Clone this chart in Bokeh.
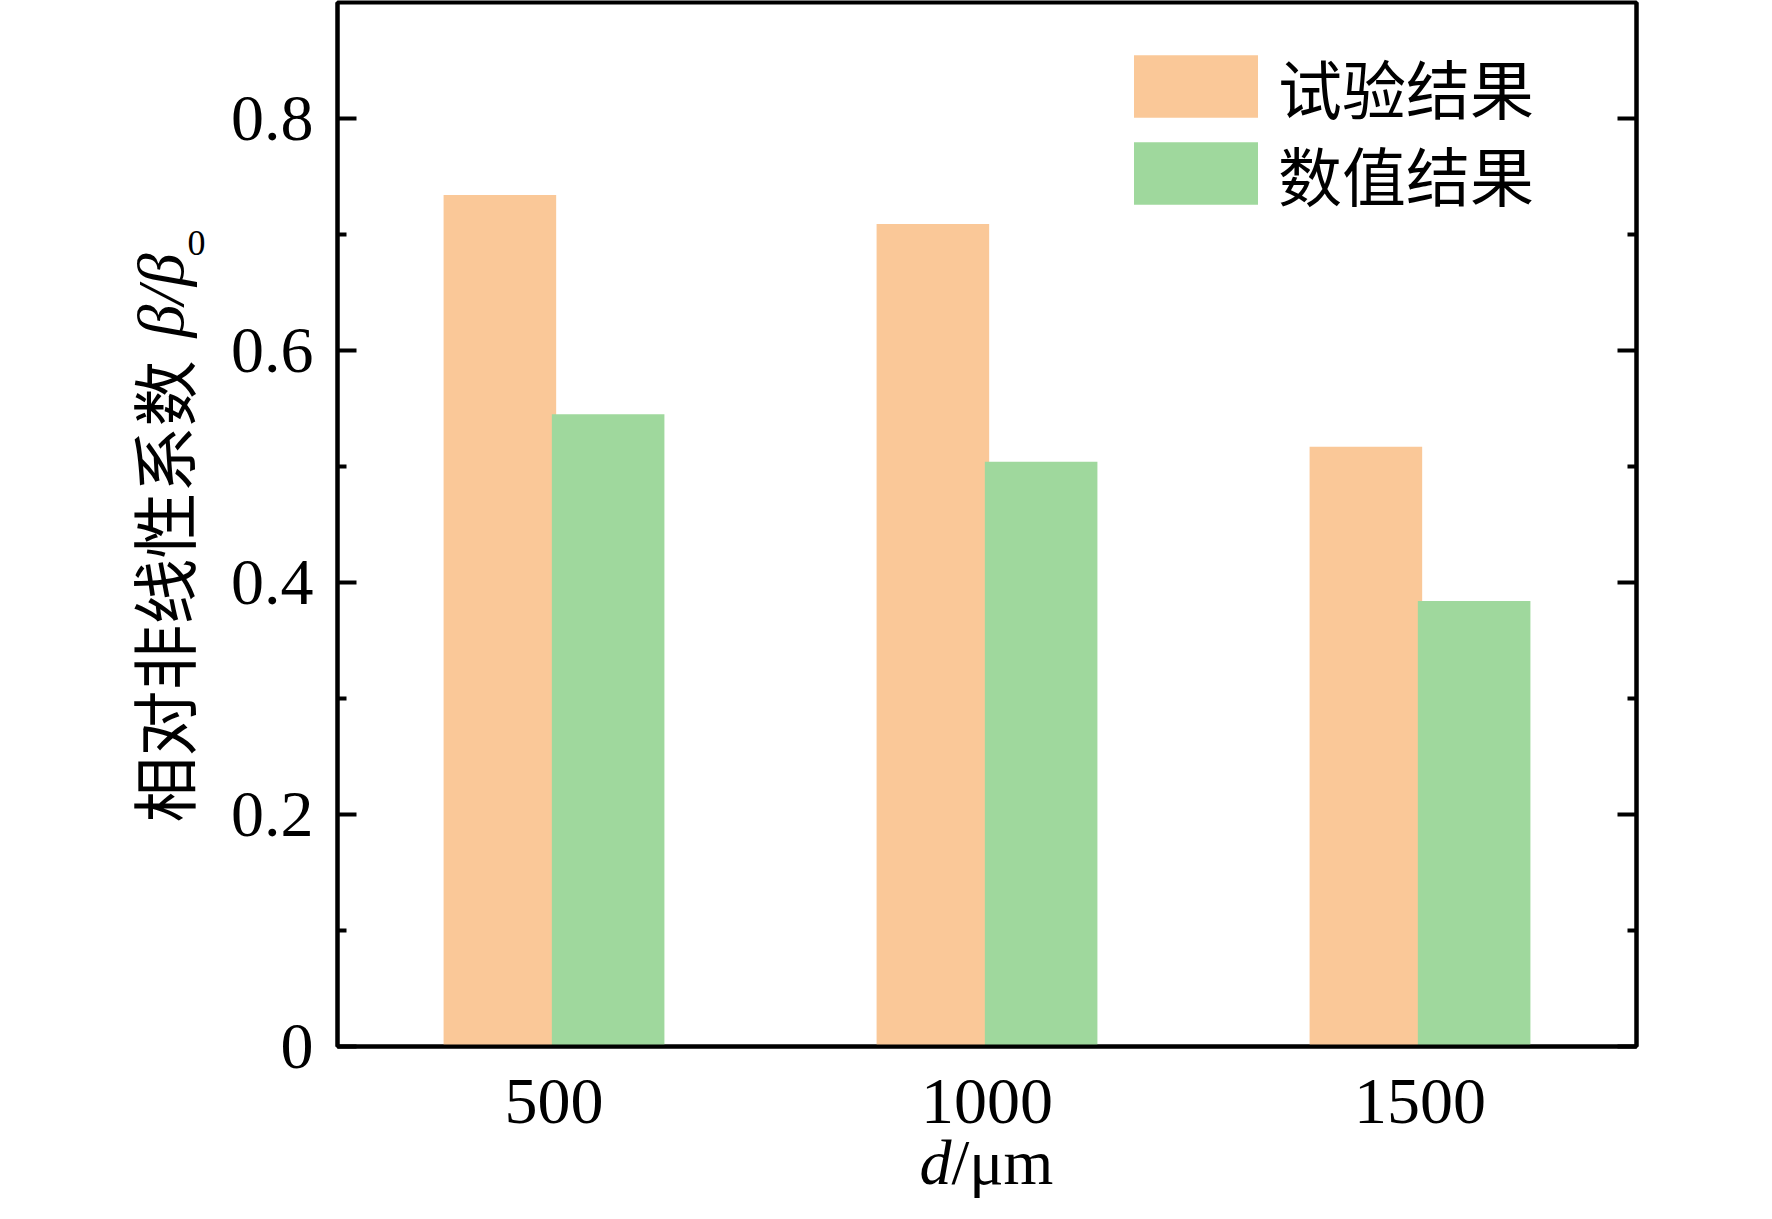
import math
from bokeh.plotting import figure
from bokeh.models import (ColumnDataSource, FixedTicker, LinearAxis, Range1d,
                          Legend, LegendItem)
from bokeh.layouts import row, column
from bokeh.transform import dodge
from bokeh.embed import file_html
from bokeh.resources import INLINE
from bokeh.core.properties import value

# ---- data ----
d_um = [500, 1000, 1500]
x_tick_labels = ["500", "1000", "1500"]
exp_vals = [0.734, 0.709, 0.517]   # 试验结果
num_vals = [0.545, 0.504, 0.384]   # 数值结果
series_names = ["试验结果", "数值结果"]
y_ticks = [0, 0.2, 0.4, 0.6, 0.8]
y_tick_labels = ["0", "0.2", "0.4", "0.6", "0.8"]
y_minor = [0.1, 0.3, 0.5, 0.7]
ylabel_cn = "相对非线性系数"
ylabel_sym = "β/β"
ylabel_sub = "0"
xlabel_sym = "d"
xlabel_unit = "/μm"

ORANGE = "#FAC898"
GREEN = "#9FD89D"
SERIF = "Liberation Serif"
CJK = "Noto Sans CJK SC"

TOTAL_W, TOTAL_H = 1756, 1203
LEFT_W = 227          # side strip holding the y title
MAIN_W = TOTAL_W - LEFT_W
MAIN_H = 1156
BOTTOM_H = 84         # x-title strip, pulled up over the tick-label border
OVERLAP = MAIN_H + BOTTOM_H - TOTAL_H

p = figure(width=MAIN_W, height=MAIN_H, output_backend="svg", toolbar_location=None,
           x_range=Range1d(250, 1750), y_range=Range1d(0, 0.9),
           min_border_left=110, min_border_right=120,
           min_border_top=2, min_border_bottom=110)
p.grid.visible = False
p.background_fill_color = "white"
p.border_fill_color = "white"
p.outline_line_color = "black"
p.outline_line_width = 4

src = ColumnDataSource(dict(d=d_um, exp=exp_vals, num=num_vals))
r1 = p.vbar(x=dodge("d", -62.5), top="exp", width=130, bottom=0, source=src,
            fill_color=ORANGE, line_color=None)
r2 = p.vbar(x=dodge("d", 62.5), top="num", width=130, bottom=0, source=src,
            fill_color=GREEN, line_color=None)

# ---- axes ----
for ax in [p.xaxis[0], p.yaxis[0]]:
    ax.axis_line_width = 4
    ax.axis_line_color = "black"
    ax.major_tick_line_width = 4
    ax.minor_tick_line_width = 4
    ax.major_label_text_font = SERIF
    ax.major_label_text_font_size = "66px"
    ax.major_label_text_color = "black"

xa = p.xaxis[0]
xa.ticker = FixedTicker(ticks=d_um)
xa.major_label_overrides = dict(zip(d_um, x_tick_labels))
xa.major_tick_in = 0
xa.major_tick_out = 0
xa.minor_tick_in = 0
xa.minor_tick_out = 0
xa.major_label_standoff = 33

ya = p.yaxis[0]
ya.ticker = FixedTicker(ticks=y_ticks, minor_ticks=y_minor)
ya.major_label_overrides = dict(zip(y_ticks, y_tick_labels))
ya.major_tick_in = 19
ya.major_tick_out = 0
ya.minor_tick_in = 9
ya.minor_tick_out = 0
ya.major_label_standoff = 24

ra = LinearAxis(ticker=FixedTicker(ticks=y_ticks, minor_ticks=y_minor))
ra.major_label_overrides = {t: "" for t in y_ticks}
ra.axis_line_width = 4
ra.major_tick_line_width = 4
ra.minor_tick_line_width = 4
ra.major_tick_in = 19
ra.major_tick_out = 0
ra.minor_tick_in = 9
ra.minor_tick_out = 0
ra.major_label_standoff = 0
ra.major_label_text_font_size = "1px"
p.add_layout(ra, "right")

# ---- legend (one box per entry so the pitch can be set freely) ----
def make_legend(name, rend, loc):
    return Legend(items=[LegendItem(label=name, renderers=[rend])],
                  location=loc, padding=0, margin=0, spacing=0,
                  glyph_width=155, glyph_height=78, label_height=78,
                  label_standoff=5, label_text_font=CJK,
                  label_text_font_size="64px", label_text_color="black",
                  border_line_color=None, background_fill_alpha=0)

p.add_layout(make_legend(series_names[0], r1, (781, 914)))
p.add_layout(make_legend(series_names[1], r2, (781, 827)))

# ---- y title strip (its frame is aligned with the main frame) ----
pl = figure(width=LEFT_W, height=MAIN_H, output_backend="svg", toolbar_location=None,
            x_range=Range1d(0, LEFT_W), y_range=Range1d(0, 0.9),
            x_axis_type=None, y_axis_type=None, min_border=0)
pl.outline_line_color = None
pl.grid.visible = False
ang = math.pi / 2
pl.text(x=[160], y=[0.1931], text=[ylabel_cn], angle=ang,
        text_font=value(CJK), text_font_size=value("66px"), text_color="black",
        text_align=value("left"), text_baseline=value("middle"))
pl.text(x=[160], y=[0.6112], text=[ylabel_sym], angle=ang,
        text_font=value(SERIF), text_font_style=value("italic"),
        text_font_size=value("66px"), text_color="black",
        text_align=value("left"), text_baseline=value("middle"))
pl.text(x=[196], y=[0.6931], text=[ylabel_sub],
        text_font=value(SERIF), text_font_size=value("36px"), text_color="black",
        text_align=value("center"), text_baseline=value("middle"))

# ---- x title strip (transparent, overlapping the tick-label border) ----
pb = figure(width=TOTAL_W, height=BOTTOM_H, output_backend="svg", toolbar_location=None,
            x_range=Range1d(0, TOTAL_W), y_range=Range1d(0, BOTTOM_H),
            x_axis_type=None, y_axis_type=None, min_border=0,
            margin=(-OVERLAP, 0, 0, 0))
pb.outline_line_color = None
pb.grid.visible = False
pb.background_fill_alpha = 0
pb.border_fill_alpha = 0
pb.text(x=[951], y=[TOTAL_H - 1162], text=[xlabel_sym],
        text_font=value(SERIF), text_font_style=value("italic"),
        text_font_size=value("64px"), text_color="black",
        text_align=value("right"), text_baseline=value("middle"))
pb.text(x=[951], y=[TOTAL_H - 1162], text=[xlabel_unit],
        text_font=value(SERIF), text_font_size=value("64px"), text_color="black",
        text_align=value("left"), text_baseline=value("middle"))

layout = column(row(pl, p), pb)
open("out.html", "w").write(file_html(layout, INLINE))
